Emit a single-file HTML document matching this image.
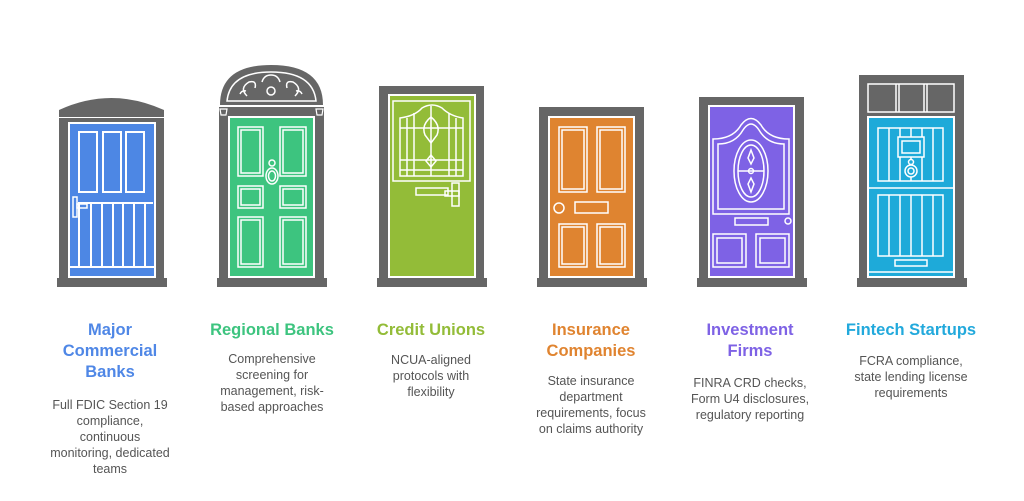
<!DOCTYPE html>
<html><head><meta charset="utf-8"><style>
html,body{margin:0;padding:0;background:#fff;width:1024px;height:501px;overflow:hidden;position:relative;font-family:"Liberation Sans",Arial,sans-serif}
.t{position:absolute;width:170px;text-align:center;font-weight:bold;font-size:16.5px;line-height:21px}
.b{position:absolute;width:170px;text-align:center;font-size:12.5px;line-height:16px;color:#555}
svg{position:absolute;left:0;top:0}
</style></head><body>
<svg width="1024" height="501" viewBox="0 0 1024 501" fill="none" stroke="#fff" stroke-width="2">
<!-- Door 1 -->
<path d="M59 117 V110 Q111 86 164 110 V117 Z" fill="#666" stroke="none"/>
<rect x="59" y="118" width="105" height="160" fill="#666" stroke="none"/>
<line x1="59" y1="117.5" x2="164" y2="117.5" stroke-width="1"/>
<rect x="69" y="123" width="86" height="154" fill="#4d87e4"/>
<rect x="79" y="132" width="18" height="60"/><rect x="103" y="132" width="18" height="60"/><rect x="126" y="132" width="18" height="60"/>
<path d="M79 267 V203 H153 M91 203V267 M102 203V267 M113 203V267 M123 203V267 M134 203V267 M145 203V267 M70 267 H154"/>
<rect x="73" y="197" width="4" height="20" stroke-width="1.5"/><rect x="77" y="204" width="10" height="4" stroke-width="1.5"/>
<rect x="57" y="278" width="110" height="9" fill="#666" stroke="none"/>
<!-- Door 2 -->
<path d="M220 105 Q220 65 271 65 Q323 65 323 105 Z" fill="#666" stroke="none"/>
<path d="M227 101 Q230 72 271 72 Q313 72 316 101 Z" stroke-width="1.5"/>
<circle cx="271" cy="91" r="4" stroke-width="1.5"/>
<path d="M247 96 q-8-8 2-14 q8-2 6 6 M295 96 q8-8 -2-14 q-8-2 -6 6 M262 82 q2-7 9-7 q7 0 9 7 M240 94 q2-4 6-3 M302 94 q-2-4 -6-3" stroke-width="1.5"/>
<rect x="219" y="107" width="105" height="171" fill="#666" stroke="none"/>
<line x1="219" y1="106" x2="324" y2="106" stroke-width="1.5"/>
<path d="M220 109 h7 l-1 6 h-5 z M316 109 h7 l-1 6 h-5 z" stroke-width="1.2"/>
<rect x="229" y="117" width="85" height="160" fill="#3dc47f"/>
<g stroke-width="1.5">
<rect x="238" y="127" width="25" height="49"/><rect x="241" y="130" width="19" height="43"/>
<rect x="280" y="127" width="26" height="49"/><rect x="283" y="130" width="20" height="43"/>
<rect x="238" y="186" width="25" height="22"/><rect x="241" y="189" width="19" height="16"/>
<rect x="280" y="186" width="26" height="22"/><rect x="283" y="189" width="20" height="16"/>
<rect x="238" y="217" width="25" height="50"/><rect x="241" y="220" width="19" height="44"/>
<rect x="280" y="217" width="26" height="50"/><rect x="283" y="220" width="20" height="44"/>
<circle cx="272" cy="163" r="3"/><ellipse cx="272" cy="176" rx="6" ry="8"/><ellipse cx="272" cy="176" rx="3.5" ry="5"/>
</g>
<rect x="217" y="278" width="110" height="9" fill="#666" stroke="none"/>
<!-- Door 3 -->
<rect x="379" y="86" width="105" height="192" fill="#666" stroke="none"/>
<rect x="389" y="95" width="86" height="182" fill="#93bc38"/>
<g stroke-width="1.5">
<rect x="393" y="101" width="77" height="80"/>
<path d="M400 176 V118 Q415 116 422 108 Q432 102 442 108 Q450 116 463 118 V176 Z"/>
<path d="M400 128 H463 M400 160 H463 M400 170H463 M407 118V176 M414 113V176 M449 113V176 M456 118V176 M431 106V176"/>
<path d="M431 117 q-10 8 -6 18 q6 8 6 8 q0 0 6 -8 q4 -10 -6 -18z M431 155 l-5 6 5 6 5 -6z"/>
<rect x="416" y="188" width="32" height="7"/><rect x="452" y="183" width="7" height="23"/><rect x="445" y="191" width="14" height="5"/>
</g>
<rect x="377" y="278" width="110" height="9" fill="#666" stroke="none"/>
<!-- Door 4 -->
<rect x="539" y="107" width="105" height="171" fill="#666" stroke="none"/>
<rect x="549" y="117" width="85" height="160" fill="#df8430"/>
<g stroke-width="1.5">
<rect x="559" y="127" width="28" height="65"/><rect x="562" y="130" width="22" height="59"/>
<rect x="597" y="127" width="28" height="65"/><rect x="600" y="130" width="22" height="59"/>
<rect x="559" y="224" width="28" height="43"/><rect x="562" y="227" width="22" height="37"/>
<rect x="597" y="224" width="28" height="43"/><rect x="600" y="227" width="22" height="37"/>
<circle cx="559" cy="208" r="5"/><rect x="575" y="202" width="33" height="11"/>
</g>
<rect x="537" y="278" width="110" height="9" fill="#666" stroke="none"/>
<!-- Door 5 -->
<rect x="699" y="97" width="105" height="181" fill="#666" stroke="none"/>
<rect x="709" y="106" width="85" height="171" fill="#7e62e5"/>
<g stroke-width="1.5">
<path d="M713 214 V139 Q733 139 741 125 Q751 112 761 125 Q769 139 789 139 V214 Z"/>
<path d="M718 209 V144 Q735 144 743 130 Q751 118 759 130 Q767 144 784 144 V209 Z"/>
<ellipse cx="751" cy="171" rx="17" ry="31"/><ellipse cx="751" cy="171" rx="13" ry="26"/>
<path d="M738 171 H764 M751 150 l-3 8 3 6 3 -6z M751 192 l-3 -8 3 -6 3 6z"/><circle cx="751" cy="171" r="2.5"/>
<rect x="735" y="218" width="33" height="7"/><circle cx="788" cy="221" r="3"/>
<rect x="713" y="234" width="33" height="33"/><rect x="717" y="238" width="25" height="25"/>
<rect x="756" y="234" width="33" height="33"/><rect x="760" y="238" width="25" height="25"/>
</g>
<rect x="697" y="278" width="110" height="9" fill="#666" stroke="none"/>
<!-- Door 6 -->
<rect x="859" y="75" width="105" height="203" fill="#666" stroke="none"/>
<rect x="868" y="84" width="86" height="28" stroke-width="1.5"/>
<path d="M896 84V112 M899 84V112 M924 84V112 M927 84V112" stroke-width="1.5"/>
<rect x="868" y="117" width="86" height="160" fill="#1eaad9"/>
<g stroke-width="1.5">
<rect x="878" y="128" width="65" height="53"/>
<path d="M889 128V181 M900 128V181 M911 128V181 M922 128V181 M933 128V181 M869 188H953"/>
<rect x="898" y="137" width="26" height="20" fill="#1eaad9"/><rect x="902" y="141" width="18" height="12"/>
<circle cx="911" cy="171" r="6" fill="#1eaad9"/><circle cx="911" cy="171" r="3"/><circle cx="911" cy="162" r="2.5" fill="#1eaad9"/>
<rect x="878" y="195" width="65" height="61"/>
<path d="M889 195V256 M900 195V256 M911 195V256 M922 195V256 M933 195V256 M869 272H953"/>
<rect x="895" y="260" width="32" height="6"/>
</g>
<rect x="857" y="278" width="110" height="9" fill="#666" stroke="none"/>
</svg>

<div class="t" style="left:25px;top:320px;color:#4f87e6">Major<br>Commercial<br>Banks</div>
<div class="b" style="left:25px;top:397px">Full FDIC Section 19<br>compliance,<br>continuous<br>monitoring, dedicated<br>teams</div>

<div class="t" style="left:187px;top:320px;color:#3dc47f">Regional Banks</div>
<div class="b" style="left:187px;top:351px">Comprehensive<br>screening for<br>management, risk-<br>based approaches</div>

<div class="t" style="left:346px;top:320px;color:#93bc38">Credit Unions</div>
<div class="b" style="left:346px;top:352px">NCUA-aligned<br>protocols with<br>flexibility</div>

<div class="t" style="left:506px;top:320px;color:#e08430">Insurance<br>Companies</div>
<div class="b" style="left:506px;top:373px">State insurance<br>department<br>requirements, focus<br>on claims authority</div>

<div class="t" style="left:665px;top:320px;color:#7e62e5">Investment<br>Firms</div>
<div class="b" style="left:665px;top:375px">FINRA CRD checks,<br>Form U4 disclosures,<br>regulatory reporting</div>

<div class="t" style="left:826px;top:320px;color:#22a9dc">Fintech Startups</div>
<div class="b" style="left:826px;top:353px">FCRA compliance,<br>state lending license<br>requirements</div>
</body></html>
